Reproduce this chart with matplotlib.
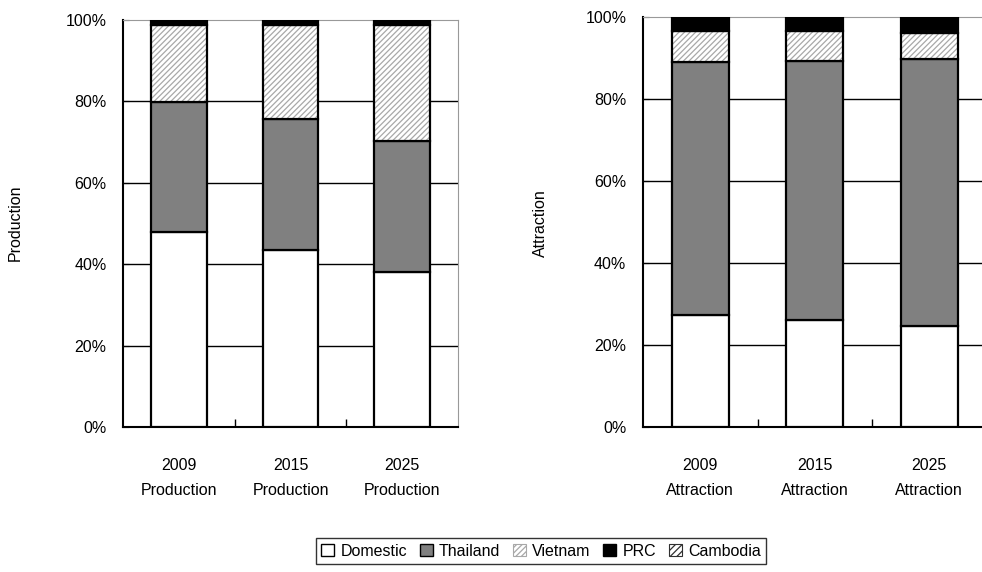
import numpy as np
import matplotlib.pyplot as plt
from matplotlib.patches import Patch
from matplotlib.ticker import PercentFormatter

plt.rcParams['font.family'] = ['Liberation Sans', 'DejaVu Sans']
plt.rcParams['hatch.linewidth'] = 0.9

# shares (%)
years = ['2009', '2015', '2025']
series = ['Domestic', 'Thailand', 'Vietnam', 'PRC', 'Cambodia']

prod_domestic = [47.9, 43.5, 38.1]
prod_thailand = [32.0, 32.2, 32.2]
prod_vietnam = [18.9, 23.1, 28.5]
prod_prc = [1.2, 1.2, 1.2]
prod_cambodia = [0.0, 0.0, 0.0]

attr_domestic = [27.3, 26.1, 24.6]
attr_thailand = [61.6, 63.1, 65.2]
attr_vietnam = [7.8, 7.5, 6.4]
attr_prc = [3.3, 3.3, 3.8]
attr_cambodia = [0.0, 0.0, 0.0]

fills = ['white', '#808080', 'white', 'black', 'white']
hatches = [None, None, '//////', None, '/////']
hatch_cols = [None, None, '#a8a8a8', None, '#303030']

fig = plt.figure(figsize=(9.82, 5.72), dpi=100)
ax1 = fig.add_axes([0.1253, 0.2535, 0.3411, 0.7115])
ax2 = fig.add_axes([0.6548, 0.2535, 0.3498, 0.7168])


def draw(ax, parts, name):
    x = np.arange(len(years))
    bottom = np.zeros(len(years))
    for vals, fc, h, hc in zip(parts, fills, hatches, hatch_cols):
        vals = np.array(vals)
        if h:
            ax.bar(x, vals, 0.5, bottom=bottom, color=fc, hatch=h,
                   edgecolor=hc, linewidth=0, zorder=3)
            ax.bar(x, vals, 0.5, bottom=bottom, fill=False,
                   edgecolor='black', linewidth=1.6, zorder=4)
        else:
            ax.bar(x, vals, 0.5, bottom=bottom, color=fc,
                   edgecolor='black', linewidth=1.6, zorder=3)
        bottom += vals
    ax.set_xlim(-0.5, 2.5)
    ax.set_ylim(0, 100)
    ax.set_yticks(np.arange(0, 101, 20))
    ax.yaxis.set_major_formatter(PercentFormatter(decimals=0))
    ax.set_xticks(x)
    ax.set_xticklabels([y + '\n' + name for y in years], linespacing=1.9)
    ax.set_xticks([0.5, 1.5], minor=True)
    ax.tick_params(axis='x', which='major', length=0, pad=22, labelsize=11.5)
    ax.tick_params(axis='x', which='minor', direction='in', length=6, width=1)
    ax.tick_params(axis='y', direction='in', length=4, labelsize=11.5, pad=12)
    for v in [20, 40, 60, 80]:
        ax.axhline(v, color='black', linewidth=1, zorder=1)
    ax.spines['left'].set_linewidth(1.5)
    ax.spines['bottom'].set_linewidth(1.5)
    ax.spines['top'].set_color('#999999')
    ax.spines['right'].set_color('#999999')


draw(ax1, [prod_domestic, prod_thailand, prod_vietnam, prod_prc, prod_cambodia], 'Production')
draw(ax2, [attr_domestic, attr_thailand, attr_vietnam, attr_prc, attr_cambodia], 'Attraction')

fig.text(15 / 982, 1 - 223 / 572, 'Production', rotation=90, ha='center', va='center', fontsize=11.5)
fig.text(540 / 982, 1 - 223 / 572, 'Attraction', rotation=90, ha='center', va='center', fontsize=11.5)

handles = []
for name, fc, h, hc in zip(series, fills, hatches, hatch_cols):
    if h:
        handles.append(Patch(facecolor=fc, hatch=h, edgecolor=hc, linewidth=0.8, label=name))
    else:
        handles.append(Patch(facecolor=fc, edgecolor='black', linewidth=1, label=name))
leg = fig.legend(handles=handles, loc='center', bbox_to_anchor=(541 / 982, 1 - 551 / 572),
                 ncol=5, frameon=True, fancybox=False, edgecolor='black', fontsize=11.5,
                 handlelength=0.8, handleheight=0.8, handletextpad=0.4, columnspacing=0.8,
                 borderpad=0.35)
leg.get_frame().set_linewidth(1)

fig.savefig('out.png', dpi=100)
